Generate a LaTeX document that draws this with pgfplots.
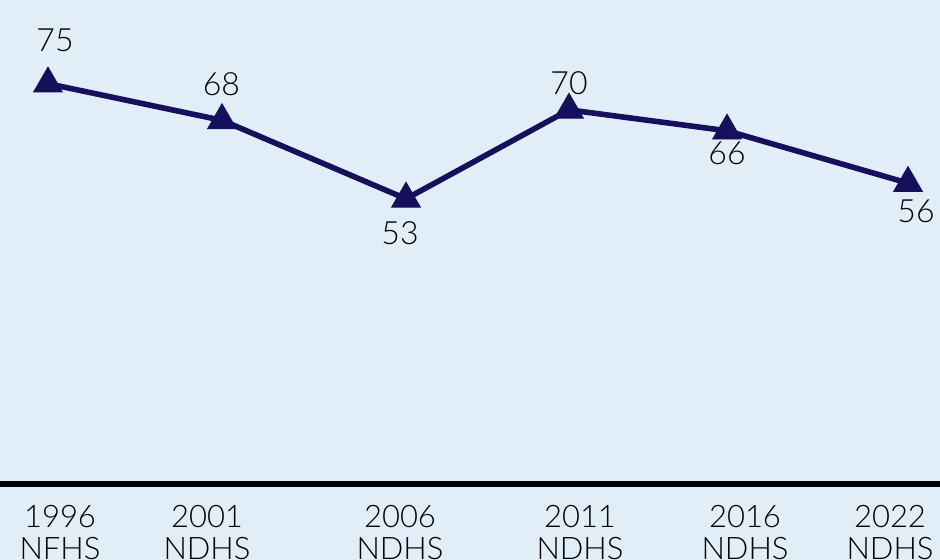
\documentclass[border=0pt]{standalone}
\usepackage{fontspec}
\setmainfont{Lato}[UprightFont={* Light}]
\usepackage{pgfplots}
\pgfplotsset{compat=1.18}
\usepackage{pgfplotstable}

\definecolor{panel}{RGB}{225,238,247}
\definecolor{navy}{RGB}{22,16,92}

% survey position along the axis, value, and label offsets (pt)
\pgfplotstableread{
pos value dx dy
48  75  3.5  21.9
222 68 -0.3  18.2
406 53 -3.0 -17.0
569 70  0.0  13.4
727 66  0.0 -11.2
908 56  4.0 -14.0
}\surveys

\begin{document}
\begin{tikzpicture}
\path[use as bounding box] (0pt,-38pt) rectangle (470pt,242pt);
\fill[panel] (0pt,-38pt) rectangle (470pt,242pt);
\clip (0pt,-38pt) rectangle (470pt,242pt);
\begin{axis}[
  scale only axis,
  width=470pt, height=242pt,
  anchor=south west, at={(0pt,0pt)},
  xmin=0, xmax=940, ymin=-1.5, ymax=91,
  clip=false,
  axis x line=bottom, axis y line=none,
  x axis line style={-, line width=3pt, black},
  xtick={60,207,400,580,745,890},
  xticklabels={{1996\\NFHS},{2001\\NDHS},{2006\\NDHS},{2011\\NDHS},{2016\\NDHS},{2022\\NDHS}},
  major tick length=0pt,
  xticklabel style={align=center, anchor=north, inner sep=0pt, yshift=-10.5pt,
    font=\fontsize{15.5}{16}\selectfont, text=black},
  /pgf/number format/assume math mode=true,
]
\addplot[navy, line width=2.8pt, mark=triangle*, mark size=8.3pt,
  mark options={solid, line width=0.4pt},
  nodes near coords, point meta=explicit,
  visualization depends on={\thisrow{dx}\as\dx},
  visualization depends on={\thisrow{dy}\as\dy},
  every node near coord/.append style={anchor=center, xshift=\dx pt, yshift=\dy pt,
    text=black, font=\fontsize{16}{18}\selectfont, inner sep=0pt},
] table[x=pos, y=value, meta=value]{\surveys};
\end{axis}
\end{tikzpicture}
\end{document}
